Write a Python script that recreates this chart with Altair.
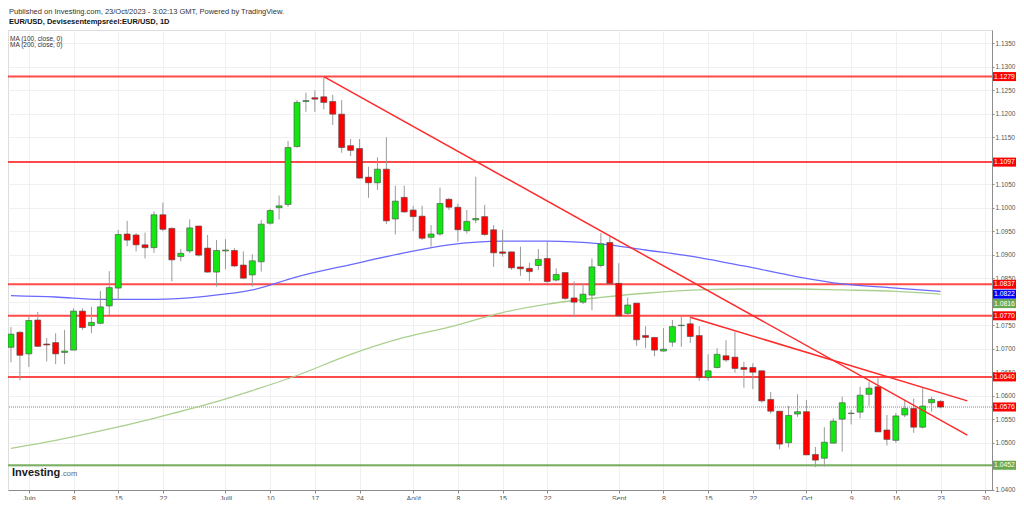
import altair as alt
import pandas as pd

# ---------------- data (trading-day index: 0 = 1 Jun 2023, weekdays only) ----------------
first_index = -2
opens = [1.0703, 1.0735, 1.0689, 1.0761, 1.0710, 1.0713, 1.0692, 1.0697, 1.0780, 1.0749,
         1.0754, 1.0791, 1.0829, 1.0944, 1.0942, 1.0921, 1.0915, 1.0985, 1.0956, 1.0896,
         1.0908, 1.0961, 1.0914, 1.0863, 1.0908, 1.0909, 1.0878, 1.0857, 1.0885, 1.0967,
         1.1000, 1.1007, 1.1130, 1.1226, 1.1234, 1.1236, 1.1226, 1.1199, 1.1132, 1.1126,
         1.1065, 1.1053, 1.1082, 1.0976, 1.1022, 1.0995, 1.0982, 1.0937, 1.0944, 1.1018,
         1.1001, 1.0951, 1.0974, 1.0981, 1.0953, 1.0906, 1.0906, 1.0874, 1.0871, 1.0877,
         1.0892, 1.0846, 1.0862, 1.0808, 1.0799, 1.0814, 1.0877, 1.0926, 1.0839, 1.0775,
         1.0797, 1.0728, 1.0724, 1.0695, 1.0714, 1.0749, 1.0753, 1.0728, 1.0639, 1.0660,
         1.0685, 1.0682, 1.0660, 1.0660, 1.0653, 1.0592, 1.0567, 1.0500, 1.0561, 1.0566,
         1.0475, 1.0467, 1.0499, 1.0550, 1.0562, 1.0565, 1.0603, 1.0619, 1.0527, 1.0505,
         1.0559, 1.0573, 1.0533, 1.0585, 1.0588]
highs = [1.0746, 1.0737, 1.0768, 1.0778, 1.0723, 1.0733, 1.0740, 1.0786, 1.0786, 1.0789,
         1.0823, 1.0865, 1.0953, 1.0972, 1.0946, 1.0947, 1.0992, 1.1011, 1.0958, 1.0912,
         1.0975, 1.0961, 1.0942, 1.0931, 1.0933, 1.0914, 1.0907, 1.0901, 1.0974, 1.0998,
         1.1026, 1.1142, 1.1229, 1.1245, 1.1250, 1.1276, 1.1240, 1.1229, 1.1146, 1.1146,
         1.1087, 1.1107, 1.1150, 1.1047, 1.1047, 1.1004, 1.1004, 1.0963, 1.1043, 1.1020,
         1.1009, 1.0995, 1.1066, 1.1006, 1.0963, 1.0953, 1.0906, 1.0917, 1.0883, 1.0912,
         1.0928, 1.0871, 1.0862, 1.0843, 1.0839, 1.0892, 1.0946, 1.0938, 1.0882, 1.0809,
         1.0797, 1.0748, 1.0724, 1.0744, 1.0761, 1.0770, 1.0768, 1.0748, 1.0688, 1.0701,
         1.0718, 1.0736, 1.0672, 1.0669, 1.0653, 1.0608, 1.0567, 1.0578, 1.0603, 1.0591,
         1.0491, 1.0533, 1.0552, 1.0598, 1.0570, 1.0619, 1.0630, 1.0637, 1.0559, 1.0563,
         1.0592, 1.0594, 1.0616, 1.0598, 1.0590]
lows = [1.0671, 1.0633, 1.0661, 1.0704, 1.0673, 1.0667, 1.0667, 1.0697, 1.0740, 1.0733,
        1.0752, 1.0771, 1.0804, 1.0918, 1.0907, 1.0892, 1.0904, 1.0950, 1.0843, 1.0886,
        1.0903, 1.0896, 1.0862, 1.0832, 1.0869, 1.0874, 1.0848, 1.0832, 1.0864, 1.0964,
        1.0975, 1.1002, 1.1128, 1.1204, 1.1204, 1.1209, 1.1176, 1.1117, 1.1110, 1.1062,
        1.1021, 1.1038, 1.0965, 1.0943, 1.0989, 1.0950, 1.0931, 1.0917, 1.0940, 1.0995,
        1.0928, 1.0945, 1.0967, 1.0940, 1.0874, 1.0896, 1.0868, 1.0855, 1.0844, 1.0867,
        1.0839, 1.0843, 1.0804, 1.0768, 1.0795, 1.0782, 1.0873, 1.0836, 1.0768, 1.0770,
        1.0706, 1.0701, 1.0684, 1.0694, 1.0704, 1.0704, 1.0712, 1.0632, 1.0632, 1.0658,
        1.0672, 1.0649, 1.0617, 1.0614, 1.0585, 1.0562, 1.0486, 1.0490, 1.0555, 1.0474,
        1.0448, 1.0449, 1.0499, 1.0481, 1.0539, 1.0552, 1.0578, 1.0523, 1.0494, 1.0500,
        1.0554, 1.0521, 1.0530, 1.0566, 1.0573]
closes = [1.0731, 1.0686, 1.0760, 1.0705, 1.0708, 1.0689, 1.0695, 1.0780, 1.0745, 1.0756,
          1.0789, 1.0830, 1.0943, 1.0931, 1.0921, 1.0915, 1.0985, 1.0954, 1.0889, 1.0903,
          1.0957, 1.0899, 1.0863, 1.0909, 1.0910, 1.0876, 1.0850, 1.0887, 1.0965, 1.0994,
          1.1004, 1.1128, 1.1224, 1.1228, 1.1231, 1.1224, 1.1199, 1.1128, 1.1122, 1.1063,
          1.1053, 1.1082, 1.0972, 1.1014, 1.0991, 1.0981, 1.0935, 1.0944, 1.1009, 1.1001,
          1.0953, 1.0971, 1.0977, 1.0943, 1.0904, 1.0903, 1.0872, 1.0870, 1.0864, 1.0890,
          1.0843, 1.0858, 1.0807, 1.0799, 1.0816, 1.0874, 1.0923, 1.0839, 1.0770, 1.0793,
          1.0719, 1.0724, 1.0697, 1.0699, 1.0747, 1.0750, 1.0726, 1.0639, 1.0653, 1.0688,
          1.0676, 1.0658, 1.0656, 1.0650, 1.0589, 1.0567, 1.0497, 1.0558, 1.0566, 1.0474,
          1.0463, 1.0501, 1.0546, 1.0585, 1.0563, 1.0601, 1.0616, 1.0523, 1.0507, 1.0557,
          1.0573, 1.0533, 1.0578, 1.0592, 1.0576]

ma_index = [-2, 3, 8, 14, 20, 25, 30, 36, 42, 47, 53, 58, 64, 69, 75, 80, 86, 91, 97, 102]
ma100 = [1.0813, 1.0810, 1.0805, 1.0805, 1.0812, 1.0825, 1.0853, 1.0879, 1.0904, 1.0921,
         1.0929, 1.0929, 1.0923, 1.0910, 1.0894, 1.0876, 1.0853, 1.0838, 1.0829, 1.0822]
ma200 = [1.0488, 1.0505, 1.0525, 1.0552, 1.0582, 1.0611, 1.0643, 1.0688, 1.0724, 1.0746,
         1.0777, 1.0795, 1.0809, 1.0818, 1.0825, 1.0827, 1.0827, 1.0825, 1.0822, 1.0816]

red_levels = [1.1279, 1.1097, 1.0837, 1.0770, 1.0640]
green_levels = [1.0452]
last_price = [1.0576]

trend_index = [33, 105, 74, 105]
trend_value = [1.1279, 1.0516, 1.0767, 1.0589]
trend_id = ["a", "a", "b", "b"]

tick_index = [0, 5, 10, 15, 22, 27, 32, 37, 43, 48, 53, 58, 66, 71, 76, 81, 87, 92, 97, 102, 107]
tick_labels = ["Juin", "8", "15", "22", "Juill", "10", "17", "24", "Août", "8", "15", "22",
               "Sept", "8", "15", "22", "Oct", "9", "16", "23", "30"]
price_ticks = [1.040, 1.045, 1.050, 1.055, 1.060, 1.065, 1.070, 1.075, 1.080, 1.085,
               1.090, 1.095, 1.100, 1.105, 1.110, 1.115, 1.120, 1.125, 1.130, 1.135]

tag_values = [1.1279, 1.1097, 1.0837, 1.0822, 1.0816, 1.0770, 1.0640, 1.0576, 1.0452]
tag_levels = [1.1279, 1.1097, 1.0837, 1.0816, 1.0796, 1.0770, 1.0640, 1.0576, 1.0452]
tag_colors = ["#ff0000", "#ff0000", "#ff0000", "#0000ff", "#6aa84f",
              "#ff0000", "#ff0000", "#ff0000", "#6aa84f"]

# ---------------- frames ----------------
n = len(opens)
candles = pd.DataFrame({
    "i": list(range(first_index, first_index + n)),
    "o": opens, "h": highs, "l": lows, "c": closes,
})
candles["col"] = ["#14e614" if c >= o else "#ff0000" for o, c in zip(opens, closes)]

ma_df100 = pd.DataFrame({"i": ma_index, "v": ma100})
ma_df200 = pd.DataFrame({"i": ma_index, "v": ma200})
trend_df = pd.DataFrame({"i": trend_index, "v": trend_value, "id": trend_id})
red_df = pd.DataFrame({"v": red_levels})
green_df = pd.DataFrame({"v": green_levels})
last_df = pd.DataFrame({"v": last_price})
tags = pd.DataFrame({"val": tag_values, "p": tag_levels, "col": tag_colors})

FONT = "Liberation Sans"

xs = alt.Scale(domain=[-1.772, 107.198], nice=False, zero=False)
ys = alt.Scale(domain=[1.039936, 1.137809], nice=False, zero=False)

label_expr = ("[" + ",".join("'%s'" % t for t in tick_labels) + "][indexof(["
              + ",".join(str(t) for t in tick_index) + "], datum.value)]")

x_axis = alt.Axis(values=tick_index, labelExpr=label_expr, title=None, grid=True,
                  gridColor="#f0f0f3", gridWidth=1, tickSize=3, tickColor="#8c8c8c",
                  domainColor="#8c8c8c", labelFontSize=7, labelColor="#555555",
                  labelFont=FONT, labelPadding=1, labelFlush=False, labelOverlap=False)
y_axis = alt.Axis(values=price_ticks, format=".4f", orient="right", title=None, grid=True,
                  gridColor="#f0f0f3", gridWidth=1, tickSize=2, tickColor="#8c8c8c",
                  domainColor="#8c8c8c", labelFontSize=6.5, labelColor="#555555",
                  labelFont=FONT, labelPadding=1, labelOverlap=False)


def X(field):
    return alt.X(field, type="quantitative", scale=xs, axis=x_axis)


def Y(field):
    return alt.Y(field, type="quantitative", scale=ys, axis=y_axis)


# ---------------- layers ----------------
wicks = alt.Chart(candles).mark_rule(color="#9a9a9a", strokeWidth=1).encode(
    x=X("i"), y=Y("l"), y2="h")
bodies = alt.Chart(candles).mark_bar(size=6, stroke="#4a4a4a", strokeWidth=0.6).encode(
    x=X("i"), y=Y("o"), y2="c", color=alt.Color("col:N", scale=None))

ma100_line = alt.Chart(ma_df100).mark_line(color="#6a6aff", strokeWidth=1.3,
                                           interpolate="monotone").encode(x=X("i"), y=Y("v"))
ma200_line = alt.Chart(ma_df200).mark_line(color="#a9d08e", strokeWidth=1.3,
                                           interpolate="monotone").encode(x=X("i"), y=Y("v"))

trend_lines = alt.Chart(trend_df).mark_line(color="#ff2a2a", strokeWidth=1.5).encode(
    x=X("i"), y=Y("v"), detail="id:N")

red_rules = alt.Chart(red_df).mark_rule(color="#ff2a2a", strokeWidth=2, opacity=0.85).encode(
    y=Y("v"))
green_rules = alt.Chart(green_df).mark_rule(color="#6aa84f", strokeWidth=2, opacity=0.9).encode(
    y=Y("v"))
last_rule = alt.Chart(last_df).mark_rule(color="#ff8f8f", strokeWidth=1.5,
                                         strokeDash=[1, 1]).encode(y=Y("v"))

tag_box = alt.Chart(tags).transform_calculate(
    lo="datum.p - 0.00096", hi="datum.p + 0.00096"
).mark_rect().encode(
    x=alt.value(985), x2=alt.value(1008), y=Y("lo:Q"), y2="hi:Q",
    color=alt.Color("col:N", scale=None))
tag_text = alt.Chart(tags).mark_text(fontSize=6.8, color="white", font=FONT,
                                     align="center", baseline="middle").encode(
    x=alt.value(996.5), y=Y("p:Q"), text=alt.Text("val:Q", format=".4f"))


def label(text, x, y, size, weight="normal", color="#333333", align="left"):
    return alt.Chart(pd.DataFrame({"t": [text]})).mark_text(
        fontSize=size, fontWeight=weight, color=color, font=FONT,
        align=align, baseline="middle").encode(
        x=alt.value(x), y=alt.value(y), text="t:N")


header1 = label("Published on Investing.com, 23/Oct/2023 - 3:02:13 GMT, Powered by TradingView.",
                1, -18, 7.5, color="#333333")
header2 = label("EUR/USD, Devisesentempsréel:EUR/USD, 1D", 1, -8, 7.5, weight="bold",
                color="#111111")
ma_lbl1 = label("MA (100, close, 0)", 2, 8.5, 6.5, color="#333333")
ma_lbl2 = label("MA (200, close, 0)", 2, 15, 6.5, color="#333333")
logo1 = label("Investing", 4, 442.5, 11, weight="bold", color="#1a1a1a")
logo2 = label(".com", 53, 443.5, 7.5, color="#666666")

chart = alt.layer(
    red_rules, green_rules, last_rule,
    ma100_line, ma200_line,
    wicks, bodies,
    trend_lines,
    tag_box, tag_text,
    header1, header2, ma_lbl1, ma_lbl2, logo1, logo2,
).properties(
    width=984, height=460,
    padding={"left": 0, "top": 22, "right": 24, "bottom": 10},
    autosize=alt.AutoSizeParams(type="none"),
    background="white",
).configure_view(stroke="transparent").configure(font=FONT)

chart.save("out.html", embed_options={"renderer": "svg", "actions": False})
